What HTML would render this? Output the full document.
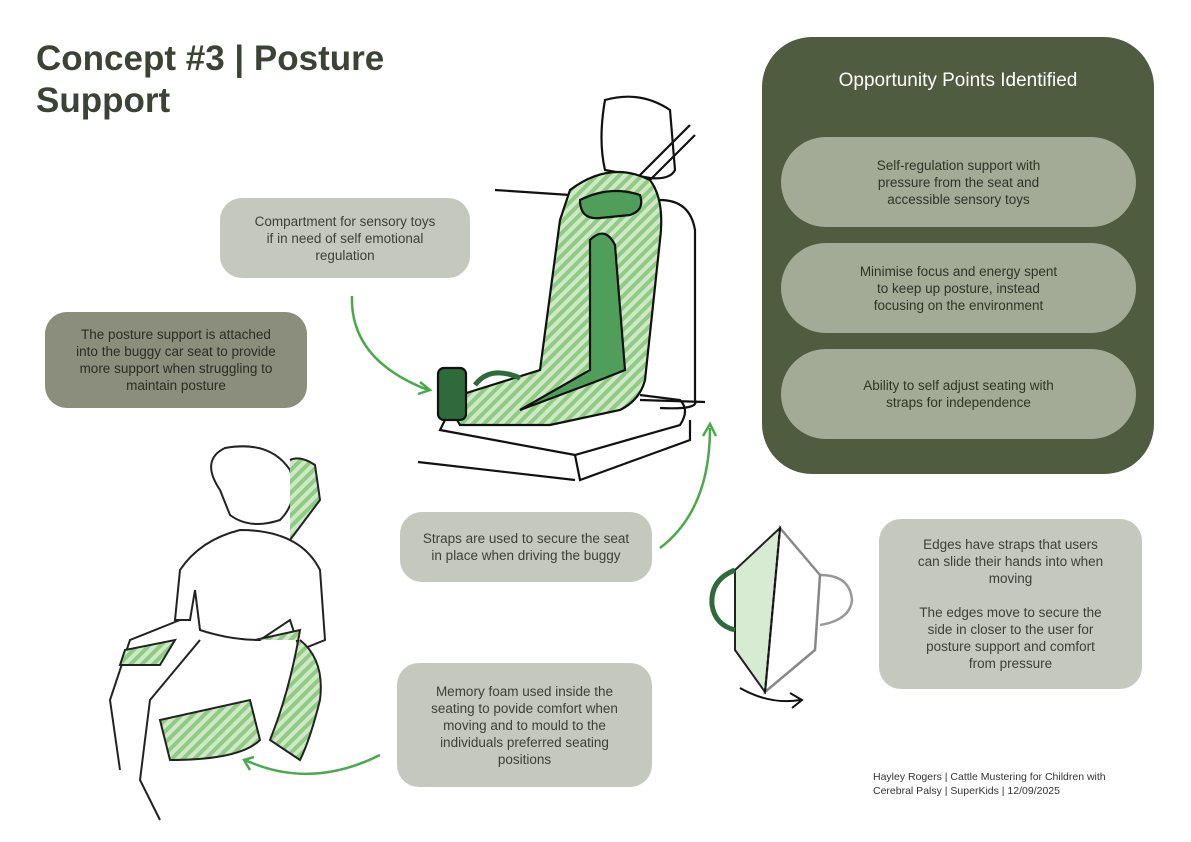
<!DOCTYPE html>
<html><head><meta charset="utf-8"><style>
body{margin:0;width:1191px;height:842px;background:#fff;position:relative;overflow:hidden;font-family:"Liberation Sans",sans-serif}
.t{position:absolute;left:36px;top:38px;font-size:35px;font-weight:bold;color:#3b4434;line-height:42px}
.box{position:absolute;border-radius:22px;display:flex;align-items:center;justify-content:center;text-align:center;font-size:13.5px;line-height:17px;color:#3c3f38}
.lt{background:#c5c9bd}
.pn{position:absolute;left:762px;top:37px;width:392px;height:437px;background:#505c3f;border-radius:50px}
.pt{position:absolute;left:0;right:0;top:33px;text-align:center;color:#fff;font-size:19px}
.pill{position:absolute;left:19px;width:355px;height:90px;border-radius:45px;background:#a3ab96;display:flex;align-items:center;justify-content:center;text-align:center;color:#2f3429;font-size:13.5px;line-height:17px}
.ft{position:absolute;left:873px;top:770px;font-size:10.5px;line-height:14px;color:#333}
svg{position:absolute;left:0;top:0}
</style></head><body>
<div class="t">Concept #3 | Posture<br>Support</div>
<svg width="1191" height="842">
<defs><pattern id="h" width="8" height="8" patternUnits="userSpaceOnUse" patternTransform="rotate(45)"><rect width="8" height="8" fill="#cfe9c6"/><rect width="4" height="8" fill="#8fcb84"/></pattern></defs>
<g fill="none" stroke="#111" stroke-width="2.2">
<path d="M605 100 Q640 90 670 110 L675 170 Q670 180 650 178 L605 170 Q598 140 605 100Z" fill="#fff"/>
<path d="M640 175 L690 125 M650 180 L695 135"/>
<path d="M495 190 L570 195"/>
<path d="M660 200 Q690 200 695 230 L695 400 Q700 410 660 408"/>
<path d="M450 410 L440 430 L575 455 L680 425 Q690 410 680 400 L640 395"/>
<path d="M575 455 L580 480 L690 440 L690 420"/>
<path d="M418 462 L575 480"/>
<path d="M640 400 L705 402"/>
<path d="M570 190 Q610 160 650 180 Q665 200 660 240 L645 380 Q640 400 620 410 L550 425 L460 425 Q450 410 460 395 L540 370 L560 220 Z" fill="url(#h)"/>
<path d="M580 200 Q610 185 640 195 Q645 210 630 215 L600 218 Q580 220 580 200Z" fill="#4f9e59"/>
<path d="M590 240 Q605 225 615 245 L625 370 L600 380 L520 410 L590 370 Z" fill="#4f9e59"/>
<rect x="438" y="368" width="28" height="52" rx="6" fill="#2f6b3a"/>
<path d="M475 385 Q490 365 520 378" stroke="#2f6b3a" stroke-width="5"/>
</g>
<g fill="none" stroke="#222" stroke-width="2">
<path d="M220 490 Q200 460 225 448 Q270 440 290 470 Q300 500 280 520 Q250 530 230 515 Z" fill="#fff"/>
<path d="M290 460 Q300 455 315 465 L320 500 L290 540" fill="url(#h)"/>
<path d="M240 530 Q200 540 180 570 L175 620 L190 620 L195 590 L200 630 Q230 640 260 640 L290 620 L300 650 L325 640 L320 570 Q300 530 240 530Z" fill="#fff"/>
<path d="M255 640 L300 630 Q290 690 270 740 L300 760 Q310 740 320 700 Q325 660 300 640" fill="url(#h)"/>
<path d="M180 620 L130 640 L110 700 L120 770"/>
<path d="M200 640 L150 700 L140 780 L160 820"/>
<path d="M160 720 L250 700 L260 740 Q240 760 170 760 Z" fill="url(#h)"/>
<path d="M125 650 L175 640 L160 665 L120 665 Z" fill="url(#h)"/>
</g>
<g fill="none" stroke="#999" stroke-width="2.5"><path d="M820 575 Q850 575 852 600 Q850 620 820 625"/></g>
<path d="M780 528 L820 575 L815 650 L765 692 Z" fill="#fff" stroke="#888" stroke-width="2.5"/>
<path d="M765 692 L735 650 L735 570 L780 528 Z" fill="#d6ebd2" stroke="#222" stroke-width="2"/>
<path d="M780 528 L765 692" stroke="#111" stroke-width="2" stroke-dasharray="4 3"/>
<path d="M735 570 Q710 580 712 605 Q715 625 735 630" fill="none" stroke="#2f6b3a" stroke-width="5"/>
<path d="M740 688 Q770 705 800 700" fill="none" stroke="#111" stroke-width="2"/>
<path d="M790 693 L802 700 L792 708" fill="none" stroke="#111" stroke-width="2"/>
<g fill="none" stroke="#4aa94a" stroke-width="2.5">
<path d="M352 296 Q350 360 428 390"/><path d="M420 382 L430 390 L418 394"/>
<path d="M660 548 Q710 510 710 428"/><path d="M703 436 L710 424 L716 436"/>
<path d="M380 755 Q310 790 245 760"/><path d="M254 757 L244 760 L250 770"/>
</g>
</svg>
<div class="box lt" style="left:220px;top:198px;width:250px;height:80px">Compartment for sensory toys<br>if in need of self emotional<br>regulation</div>
<div class="box" style="left:45px;top:312px;width:262px;height:96px;background:#8b8e7d;color:#2a2c26">The posture support is attached<br>into the buggy car seat to provide<br>more support when struggling to<br>maintain posture</div>
<div class="box lt" style="left:400px;top:512px;width:252px;height:70px">Straps are used to secure the seat<br>in place when driving the buggy</div>
<div class="box lt" style="left:397px;top:663px;width:255px;height:124px">Memory foam used inside the<br>seating to povide comfort when<br>moving and to mould to the<br>individuals preferred seating<br>positions</div>
<div class="box lt" style="left:879px;top:519px;width:263px;height:170px">Edges have straps that users<br>can slide their hands into when<br>moving<br><br>The edges move to secure the<br>side in closer to the user for<br>posture support and comfort<br>from pressure</div>
<div class="pn"><div class="pt">Opportunity Points Identified</div>
<div class="pill" style="top:100px">Self-regulation support with<br>pressure from the seat and<br>accessible sensory toys</div>
<div class="pill" style="top:206px">Minimise focus and energy spent<br>to keep up posture, instead<br>focusing on the environment</div>
<div class="pill" style="top:312px">Ability to self adjust seating with<br>straps for independence</div>
</div>
<div class="ft">Hayley Rogers | Cattle Mustering for Children with<br>Cerebral Palsy | SuperKids | 12/09/2025</div>
</body></html>
